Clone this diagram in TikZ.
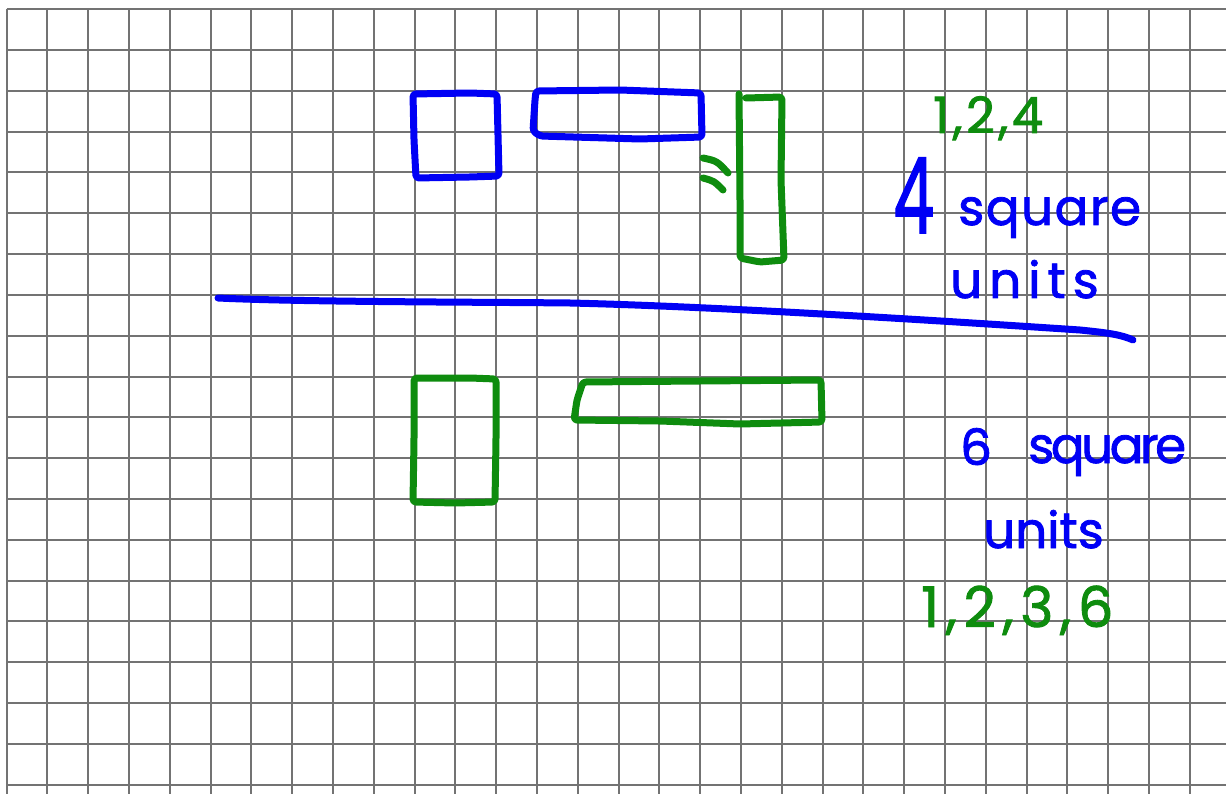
\documentclass[tikz,border=0pt]{standalone}
\usepackage{fontspec}
\setmainfont{Poppins}[FakeBold=1.6]
\definecolor{penblue}{RGB}{0,0,245}
\definecolor{pengreen}{RGB}{14,140,14}
\definecolor{gridgray}{RGB}{115,115,115}
\newcommand{\spaced}[2]{{\addfontfeature{LetterSpace=#1}#2}}
\tikzset{
  gridline/.style={draw=gridgray, line width=2pt},
  pen/.style={line width=7pt, line cap=round, line join=round, rounded corners=3pt},
  bluepen/.style={pen, draw=penblue},
  greenpen/.style={pen, draw=pengreen},
  handtext/.style={inner sep=0pt, anchor=base west, font=\fontsize{50}{60}\selectfont},
  bluetext/.style={handtext, text=penblue},
  greentext/.style={handtext, text=pengreen},
}
\begin{document}
\begin{tikzpicture}[x=1pt,y=-1pt]
  \useasboundingbox (0,0) rectangle (1226,794);
  \fill[white] (0,0) rectangle (1226,794);

  % squared paper
  \foreach \k in {0,...,19}
    \draw[gridline] (6.5,{9.3+40.8*\k}) -- (1226,{9.3+40.8*\k});
  \foreach \k in {0,...,29}
    \draw[gridline] ({6.5+40.8*\k},9.3) -- ({6.5+40.8*\k},794);

  % area 4: 2x2 square and 4x1 strip
  \draw[bluepen] (413,94) -- (470,93) -- (497,94) -- (498,135) -- (499,176)
    -- (470,177) -- (416,178) -- (414,140) -- cycle;
  \draw[bluepen] (536,91) -- (620,90) -- (701,93) -- (702,137) -- (640,139)
    -- (540,136) -- (533,131) -- (535,100) -- cycle;
  % "=" sign between the strip and its upright copy
  \draw[greenpen] (703,158) .. controls (717,161) .. (728,173);
  \draw[greenpen] (703,178) .. controls (714,181) .. (723,190);
  \draw[greenpen] (739,94) -- (740,200) -- (740,258) -- (760,262) -- (784,260)
    -- (781,180) -- (782,97) -- (746,98);

  % separating stroke
  \draw[penblue, line width=7pt, line cap=round]
    (218,298) .. controls (300,302) and (480,302) .. (570,303)
    .. controls (700,306) and (900,318) .. (1080,330)
    .. controls (1110,333) and (1122,335) .. (1133,340);

  % area 6: 2x3 rectangle and 6x1 strip
  \draw[greenpen] (414,378) -- (470,378) -- (496,379) -- (496,440) -- (495,502)
    -- (455,503) -- (413,502) -- (414,440) -- cycle;
  \draw[greenpen] (583,382) -- (700,381) -- (821,380) -- (822,422) -- (740,424)
    -- (660,421) -- (574,420) -- (577,400) -- cycle;

  % labels
  \node[greentext] (f4) at (933,133) {\spaced{7}{1,2,4}};
  \node[bluetext, font=\fontsize{105}{110}\selectfont] (n4) at (893,233)
    {\scalebox{0.62}[1]{4}};
  \node[bluetext] (sq4) at (958,225) {\spaced{3}{square}};
  \node[bluetext] (un4) at (950,298) {\spaced{14}{units}};

  \node[bluetext] (n6) at (960,465) {6};
  \node[bluetext] (sq6) at (1028,463) {\spaced{-7}{square}};
  \node[bluetext] (un6) at (983,548) {units};
  \node[greentext, font=\fontsize{56}{60}\selectfont] (f6) at (921,627)
    {\spaced{12}{1,2,3,6}};
\end{tikzpicture}
\end{document}
